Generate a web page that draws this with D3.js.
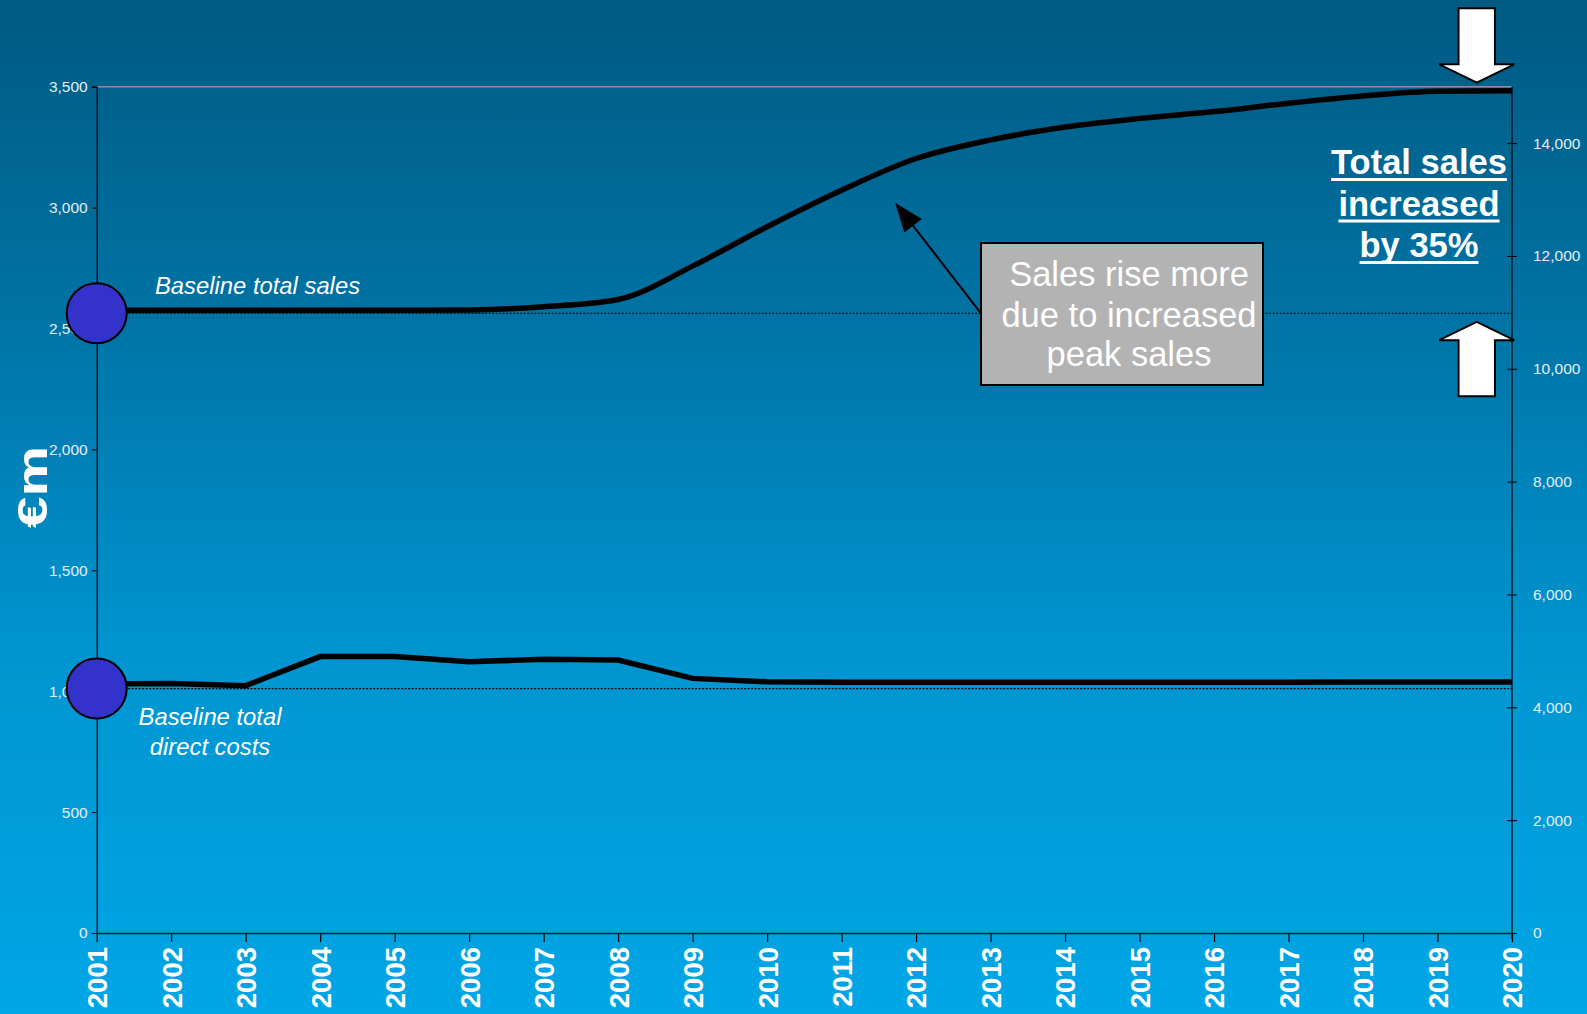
<!DOCTYPE html>
<html>
<head>
<meta charset="utf-8">
<script src="https://cdn.jsdelivr.net/npm/d3@7"></script>
<style>
  html, body { margin: 0; padding: 0; background: #0080b8; }
  svg { display: block; font-family: "Liberation Sans", Arial, sans-serif; }
</style>
</head>
<body>
<svg id="chart" width="1587" height="1014"></svg>
<script>
// Years on the category axis
const years = [2001, 2002, 2003, 2004, 2005, 2006, 2007, 2008, 2009, 2010,
               2011, 2012, 2013, 2014, 2015, 2016, 2017, 2018, 2019, 2020];

// Total sales (€m) under the new scenario
const totalSales = [2575, 2575, 2575, 2575, 2575, 2577, 2590, 2620, 2758, 2921,
                    3072, 3203, 3280, 3333, 3369, 3397, 3432, 3462, 3481, 3483];

// Total direct costs (€m) under the new scenario
const directCosts = [1030, 1032, 1023, 1143, 1143, 1122, 1132, 1129, 1053, 1039,
                     1037, 1037, 1037, 1037, 1037, 1037, 1037, 1038, 1038, 1038];

// Baseline levels marked by the circles and dotted reference lines
const baselineSales = 2563;
const baselineCosts = 1011;

// Axis ticks
const leftTicks = [0, 500, 1000, 1500, 2000, 2500, 3000, 3500];
const rightTicks = [0, 2000, 4000, 6000, 8000, 10000, 12000, 14000];

const svg = d3.select("#chart");
const W = 1587, H = 1014;

// Background: vertical blue gradient
const defs = svg.append("defs");
const grad = defs.append("linearGradient").attr("id", "bg")
  .attr("x1", 0).attr("y1", 0).attr("x2", 0).attr("y2", 1);
[[0, "#005a82"], [0.3, "#0072a3"], [0.65, "#0095d1"], [1, "#00a6e6"]]
  .forEach(([o, c]) => grad.append("stop").attr("offset", o).attr("stop-color", c));
svg.append("rect").attr("width", W).attr("height", H).attr("fill", "url(#bg)");

const plotLeft = 96.7, plotRight = 1512, plotTop = 86.7, plotBottom = 933;

const x = d3.scaleLinear().domain([2001, 2020]).range([plotLeft, plotRight]);
const yL = d3.scaleLinear().domain([0, 3500]).range([plotBottom, plotTop]);
const yR = d3.scaleLinear().domain([0, 15000]).range([plotBottom, plotTop]);

const tickColor = "#e4eef5";
const fmt = d3.format(",");

// Top frame line
svg.append("line")
  .attr("x1", plotLeft).attr("x2", plotRight).attr("y1", yL(3500)).attr("y2", yL(3500))
  .attr("stroke", "#8a8f94").attr("stroke-width", 1.5);

// Dotted baseline reference lines
[baselineSales, baselineCosts].forEach(v => {
  svg.append("line")
    .attr("x1", plotLeft).attr("x2", plotRight).attr("y1", yL(v)).attr("y2", yL(v))
    .attr("stroke", "#000").attr("stroke-width", 1.2).attr("stroke-dasharray", "2,1.5");
});

// Left axis
const gL = svg.append("g").attr("transform", `translate(${plotLeft},0)`)
  .call(d3.axisLeft(yL).tickValues(leftTicks).tickFormat(fmt).tickSize(5).tickPadding(4));
gL.select(".domain").attr("stroke", "#000").attr("stroke-width", 1.2);
gL.selectAll(".tick line").attr("stroke", "#000");
gL.selectAll(".tick text").attr("fill", tickColor).attr("font-size", 15.5)
  .attr("font-family", "Liberation Sans, Arial, sans-serif");

// Right axis
const gR = svg.append("g").attr("transform", `translate(${plotRight},0)`)
  .call(d3.axisRight(yR).tickValues(rightTicks).tickFormat(fmt).tickSize(5).tickPadding(16)
        .tickSizeOuter(0));
gR.select(".domain").attr("stroke", "#000").attr("stroke-width", 1.2)
  .attr("d", `M0,${plotTop}V${plotBottom + 6}`);
gR.selectAll(".tick line").attr("stroke", "#000").attr("x1", -5).attr("x2", 5);
gR.selectAll(".tick text").attr("fill", tickColor).attr("font-size", 15.5)
  .attr("font-family", "Liberation Sans, Arial, sans-serif");

// Bottom axis with vertical year labels
const gB = svg.append("g").attr("transform", `translate(0,${plotBottom})`)
  .call(d3.axisBottom(x).tickValues(years).tickFormat(d3.format("d")).tickSize(9).tickSizeOuter(0));
gB.select(".domain").attr("stroke", "#1a1a1a").attr("stroke-width", 1.5);
gB.selectAll(".tick line").attr("stroke", "#000").attr("stroke-width", 1.2);
gB.selectAll(".tick text")
  .attr("transform", "rotate(-90)")
  .attr("x", -14).attr("y", 0).attr("dy", "0.36em")
  .attr("text-anchor", "end")
  .attr("fill", "#ffffff").attr("font-size", 27.5).attr("font-weight", "bold")
  .attr("font-family", "Liberation Sans, Arial, sans-serif");

// Left axis title
svg.append("text")
  .attr("transform", "translate(47,487) rotate(-90) scale(1.35,1)")
  .attr("text-anchor", "middle")
  .attr("fill", "#ffffff").attr("font-size", 42).attr("font-weight", "bold")
  .text("€m");

// Sales (smooth) and direct costs (straight segments)
const salesLine = d3.line().x((d, i) => x(years[i])).y(d => yL(d)).curve(d3.curveMonotoneX);
const costLine = d3.line().x((d, i) => x(years[i])).y(d => yL(d));

svg.append("path").datum(totalSales).attr("d", salesLine)
  .attr("fill", "none").attr("stroke", "#000").attr("stroke-width", 5.5)
  .attr("stroke-linejoin", "round");
svg.append("path").datum(directCosts).attr("d", costLine)
  .attr("fill", "none").attr("stroke", "#000").attr("stroke-width", 5.5)
  .attr("stroke-linejoin", "miter");

// Baseline markers
[baselineSales, baselineCosts].forEach(v => {
  svg.append("circle").attr("cx", x(2001)).attr("cy", yL(v)).attr("r", 30)
    .attr("fill", "#3333cc").attr("stroke", "#000").attr("stroke-width", 2);
});

// Series labels
svg.append("text").attr("x", 155).attr("y", 293.5)
  .attr("fill", "#ffffff").attr("font-size", 23.8).attr("font-style", "italic")
  .text("Baseline total sales");
const costLbl = svg.append("text").attr("text-anchor", "middle")
  .attr("fill", "#ffffff").attr("font-size", 23.8).attr("font-style", "italic");
costLbl.append("tspan").attr("x", 210).attr("y", 725).text("Baseline total");
costLbl.append("tspan").attr("x", 210).attr("y", 755).text("direct costs");

// Callout box with pointer to the sales curve
const tipX = x(2011.72), tipY = yL(3020);
const boxX0 = 981, boxX1 = 1263, boxY0 = 243, boxY1 = 385;
const startX = boxX0, startY = yL(baselineSales);
const ang = Math.atan2(tipY - startY, tipX - startX);
const headLen = 29, headHalf = 11;
const bx = tipX - headLen * Math.cos(ang), by = tipY - headLen * Math.sin(ang);
svg.append("line").attr("x1", startX).attr("y1", startY).attr("x2", bx).attr("y2", by)
  .attr("stroke", "#000").attr("stroke-width", 2);
svg.append("polygon")
  .attr("points", [
    [tipX, tipY],
    [bx + headHalf * Math.sin(ang), by - headHalf * Math.cos(ang)],
    [bx - headHalf * Math.sin(ang), by + headHalf * Math.cos(ang)]
  ].map(p => p.join(",")).join(" "))
  .attr("fill", "#000");

svg.append("rect").attr("x", boxX0).attr("y", boxY0)
  .attr("width", boxX1 - boxX0).attr("height", boxY1 - boxY0)
  .attr("fill", "#b3b3b3").attr("stroke", "#000").attr("stroke-width", 2);
const boxText = svg.append("text").attr("text-anchor", "middle")
  .attr("fill", "#ffffff").attr("font-size", 34.5);
[["Sales rise more", 286], ["due to increased", 327], ["peak sales", 366]].forEach(([t, yy]) => {
  boxText.append("tspan").attr("x", 1129).attr("y", yy).text(t);
});

// Headline with underlines
const headX = 1419;
[["Total sales", 174], ["increased", 215.5], ["by 35%", 257]].forEach(([t, yy]) => {
  const tx = svg.append("text").attr("x", headX).attr("y", yy).attr("text-anchor", "middle")
    .attr("fill", "#ffffff").attr("font-size", 34.5).attr("font-weight", "bold").text(t);
  const w = tx.node().getComputedTextLength();
  svg.append("rect").attr("x", headX - w / 2).attr("y", yy + 4)
    .attr("width", w).attr("height", 3).attr("fill", "#ffffff");
});

// Block arrows marking the rise between baseline and final sales
const ax = x(2019.5) + 2;
const shaftHalf = 18.2, headHalfW = 37.5, headH = 18.4;
function blockArrow(tipYv, dir, tailLen) {
  // dir = +1 points down, -1 points up
  const baseY = tipYv - dir * headH;
  const tailY = baseY - dir * tailLen;
  const pts = [
    [ax - shaftHalf, tailY], [ax + shaftHalf, tailY], [ax + shaftHalf, baseY],
    [ax + headHalfW, baseY], [ax, tipYv], [ax - headHalfW, baseY], [ax - shaftHalf, baseY]
  ];
  svg.append("polygon").attr("points", pts.map(p => p.join(",")).join(" "))
    .attr("fill", "#ffffff").attr("stroke", "#000").attr("stroke-width", 2)
    .attr("stroke-linejoin", "miter");
}
blockArrow(yL(3500) - 4, 1, 56);
blockArrow(yL(baselineSales) + 8.5, -1, 56);
</script>
</body>
</html>
